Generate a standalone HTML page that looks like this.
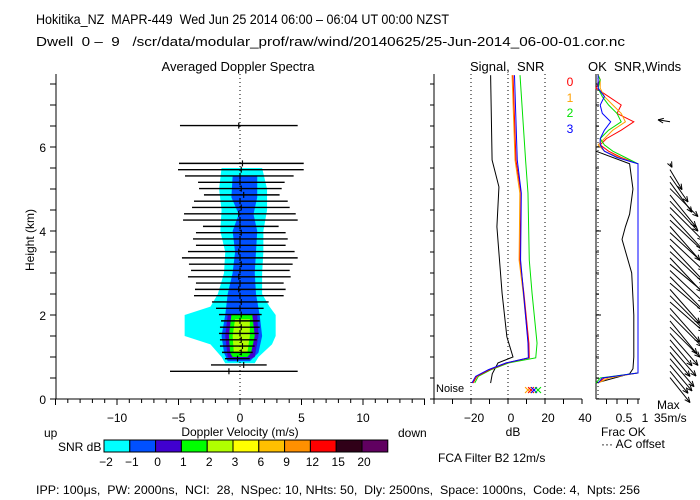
<!DOCTYPE html>
<html><head><meta charset="utf-8">
<style>
html,body{margin:0;padding:0;background:#fff;}
svg{display:block;font-family:"Liberation Sans",sans-serif;}
text{white-space:pre;}
</style></head>
<body>
<svg id="c" width="700" height="500" viewBox="0 0 700 500" xmlns="http://www.w3.org/2000/svg">
<text x="36" y="24" font-size="14" textLength="413" lengthAdjust="spacingAndGlyphs">Hokitika_NZ  MAPR-449  Wed Jun 25 2014 06:00 – 06:04 UT 00:00 NZST</text>
<text x="36" y="46" font-size="12.5" textLength="589" lengthAdjust="spacingAndGlyphs">Dwell  0 –  9   /scr/data/modular_prof/raw/wind/20140625/25-Jun-2014_06-00-01.cor.nc</text>
<text x="238" y="71" font-size="13" text-anchor="middle">Averaged Doppler Spectra</text>
<text x="470" y="71" font-size="13">Signal,  SNR</text>
<text x="588" y="71" font-size="13">OK  SNR,Winds</text>
<text x="0" y="0" font-size="12" text-anchor="middle" transform="translate(34,240) rotate(-90)">Height (km)</text>
<g id="plots"></g>
<text x="44" y="437" font-size="12">up</text>
<text x="240" y="436" font-size="12" text-anchor="middle">Doppler Velocity (m/s)</text>
<text x="398" y="437" font-size="12">down</text>
<text x="58" y="451" font-size="12">SNR dB</text>
<text x="513" y="436" font-size="12" text-anchor="middle">dB</text>
<text x="601" y="436" font-size="12">Frac OK</text>
<text x="601" y="448" font-size="12">··· AC offset</text>
<text x="657" y="409" font-size="12">Max</text>
<text x="654" y="422" font-size="12">35m/s</text>
<text x="438" y="462" font-size="12">FCA Filter B2 12m/s</text>
<text x="436" y="392" font-size="11">Noise</text>
<text x="36" y="494" font-size="12" textLength="604" lengthAdjust="spacingAndGlyphs">IPP: 100μs,  PW: 2000ns,  NCI:  28,  NSpec: 10, NHts: 50,  Dly: 2500ns,  Space: 1000ns,  Code: 4,  Npts: 256</text>
</svg>
<script>
// ---- data ----
var barHeights=[0.66,0.81,0.96,1.11,1.26,1.41,1.56,1.71,1.86,2.01,2.16,2.31,2.46,2.61,2.76,2.91,3.06,3.21,3.36,3.51,3.66,3.81,3.96,4.11,4.26,4.41,4.56,4.71,4.86,5.01,5.16,5.31,5.46,5.61,6.51];
var barLeft=[-5.69,-2.36,-1.22,-1.46,-1.63,-1.63,-1.71,-1.63,-1.54,-1.71,-1.95,-2.28,-3.74,-3.66,-3.58,-4.23,-3.98,-4.15,-4.72,-4.23,-3.58,-3.82,-3.58,-3.01,-4.63,-4.55,-3.90,-3.74,-2.93,-3.33,-3.41,-4.47,-5.04,-4.96,-4.88];
var barRight=[4.69,2.17,0.79,1.03,1.19,1.36,1.52,1.60,1.60,1.76,1.92,2.33,3.55,3.71,3.55,4.12,4.04,4.28,4.69,4.44,3.71,3.88,3.71,3.14,4.69,4.53,4.04,3.88,3.22,3.39,3.63,4.36,5.18,5.18,4.69];
var barMean=[-0.9,0.3,-0.2,0.1,0.2,0.1,0.0,0.1,0.0,0.1,0.0,0.1,0.0,-0.1,0.0,-0.1,0.0,0.1,0.0,-0.1,0.0,0.0,0.1,0.0,0.0,-0.1,0.1,0.0,0.3,0.1,0.0,0.0,0.1,0.2,-0.1];
var cyanH=[0.85,1.0,1.3,1.5,2.0,2.2,2.5,3.0,3.5,4.0,4.5,5.0,5.5];
var cyanL=[-1.2,-1.5,-2.4,-4.5,-4.5,-2.4,-1.8,-1.3,-1.2,-1.6,-1.5,-1.7,-1.5];
var cyanR=[1.2,1.5,2.6,2.9,2.9,2.4,1.8,1.8,1.9,1.9,2.2,2.2,1.8];
var blueH=[0.9,1.1,1.5,2.0,2.5,3.0,3.5,4.0,4.4,4.8,5.3];
var blueL=[-1.0,-1.3,-1.5,-1.2,-1.0,-0.6,-0.4,-0.6,-0.1,-0.7,-0.6];
var blueR=[0.8,1.5,1.8,1.6,1.3,1.2,1.3,1.4,1.1,1.4,1.4];
var purpH=[0.95,1.0,1.5,2.0];
var purpL=[-0.8,-1.0,-1.2,-1.0];
var purpR=[0.8,1.2,1.5,1.4];
var greenH=[1.0,1.1,1.5,2.0];
var greenL=[-0.6,-0.8,-0.9,-0.7];
var greenR=[0.6,0.9,1.2,1.0];
var ygH=[1.1,1.5,1.9];
var ygL=[-0.5,-0.6,-0.4];
var ygR=[0.6,0.8,0.8];
var cbLabels=["-2","-1","0","1","2","3","6","9","12","15","20"];
var cbColors=["#00ffff","#0050ff","#4000d0","#00ff00","#b0ff00","#ffff00","#ffc000","#ff9000","#ff0000","#300018","#600060"];
var sigH=[7.71,5.69,5.05,4.1,2.52,1.48,1.0,0.86,0.6,0.38];
var sigDb=[-9.4,-8.6,-4.9,-6.0,-3.2,-0.6,2.7,-5.4,-8.5,-9.4];
var snrH=[7.71,5.69,4.9,3.31,2.52,1.33,0.98,0.86,0.7,0.54,0.38];
var snr0=[2.7,4.3,7.0,6.5,8.6,11.3,11.5,-0.5,-9.7,-16.8,-18.9];
var snr1=[2.2,3.8,6.4,6.0,8.2,11.0,11.2,-0.8,-10.0,-17.0,-19.0];
var snr2=[6.5,9.5,10.8,11.5,13.0,15.7,15.0,0.5,-9.0,-16.0,-18.0];
var snr3=[3.5,5.0,7.2,6.8,8.4,10.8,11.0,-1.0,-10.5,-17.5,-19.5];
var okH=[0.38,0.5,0.62,5.6,5.75,5.9,6.05,6.2,6.4,6.6,6.8,7.0,7.2,7.4,7.6,7.71];
var ok0=[0.05,0.2,1.0,1.0,0.6,0.3,0.1,0.25,0.6,0.9,0.5,0.6,0.3,0.0,0.1,0.05];
var ok1=[0.05,0.3,1.0,1.0,0.55,0.2,0.05,0.2,0.4,0.7,0.6,0.4,0.2,0.1,0.1,0.05];
var ok2=[0.0,0.1,1.0,1.0,0.7,0.4,0.2,0.1,0.3,0.6,0.5,0.3,0.15,0.05,0.1,0.05];
var ok3=[0.05,0.15,1.0,1.0,0.5,0.2,0.1,0.1,0.2,0.35,0.15,0.1,0.2,0.05,0.05,0.05];
var acH=[0.38,0.6,0.72,1.0,2.0,3.0,3.8,4.1,4.4,5.0,5.6,5.9];
var acFrac=[0.0,0.8,0.88,0.9,0.9,0.85,0.62,0.7,0.8,0.88,0.8,0.0];
var windH=[0.51,0.66,0.81,0.96,1.11,1.26,1.41,1.56,1.71,1.86,2.01,2.16,2.31,2.46,2.61,2.76,2.91,3.06,3.21,3.36,3.51,3.66,3.81,3.96,4.11,4.26,4.41,4.56,4.71,4.86,5.01,5.16,5.31,5.46,5.61,6.6];
var windU=[20,18,22,24,20,26,22,28,30,27,32,30,34,33,30,35,33,34,36,32,35,33,34,36,30,34,32,33,28,26,28,22,18,12,2,-12];
var windV=[-25,-22,-26,-28,-24,-30,-26,-32,-30,-33,-32,-34,-30,-33,-34,-30,-33,-32,-30,-34,-33,-35,-32,-33,-34,-32,-35,-33,-30,-32,-28,-30,-26,-20,-4,2];

var NS='http://www.w3.org/2000/svg';
var g=document.getElementById('plots');
function yH(h){return 399-h*42;}
function xV(v){return 240+v*12.3;}
function xDb(d){return 508+d*1.85;}
function xF(f){return 596+f*42;}
function mk(tag,attrs,parent){var e=document.createElementNS(NS,tag);for(var k in attrs)e.setAttribute(k,attrs[k]);(parent||g).appendChild(e);return e;}
function line(x1,y1,x2,y2,st,w,da){return mk('line',{x1:x1,y1:y1,x2:x2,y2:y2,stroke:st||'#000','stroke-width':w||1,'stroke-dasharray':da||'none'});}
function txt(x,y,s,anchor,fill,size){var t=mk('text',{x:x,y:y,'font-size':size||12,'text-anchor':anchor||'middle',style:'fill:'+(fill||'#000')});t.textContent=s;return t;}

function contour(H,L,R,col,name){
  var pts=[];
  for(var i=0;i<H.length;i++)pts.push(xV(L[i])+','+yH(H[i]));
  for(var j=H.length-1;j>=0;j--)pts.push(xV(R[j])+','+yH(H[j]));
  var p=mk('polygon',{points:pts.join(' '),fill:col});
  
  
}
contour(cyanH,cyanL,cyanR,'#00ffff','contour-snr-m2');
contour(blueH,blueL,blueR,'#0050ff','contour-snr-m1');
contour(purpH,purpL,purpR,'#4000d0','contour-snr-0');
contour(greenH,greenL,greenR,'#00ff00','contour-snr-1');
contour(ygH,ygL,ygR,'#b0ff00','contour-snr-2');

line(56,74,56,399);line(56,399,425,399);
line(xV(0),74,xV(0),399,'#000',1,'1,3');
for(var h=0;h<=7.5;h+=0.5){line(50,yH(h),56,yH(h));}
[0,2,4,6].forEach(function(v){txt(46,yH(v)+5,String(v),'end');});
for(var v=-15;v<=15;v++){var mj=(v%5===0);line(xV(v),399,xV(v),mj?405:403);}
[-10,-5,0,5,10].forEach(function(v){txt(xV(v),422,(v<0?'−':'')+Math.abs(v));});

for(var i=0;i<barHeights.length;i++){
  var b=line(xV(barLeft[i]),yH(barHeights[i]),xV(barRight[i]),yH(barHeights[i]),'#000',1.4);
  
  
  line(xV(barMean[i]),yH(barHeights[i])-3,xV(barMean[i]),yH(barHeights[i])+3,'#000',1.2);
}

for(var c=0;c<cbColors.length;c++){
  var r=mk('rect',{x:104+c*25.8,y:440,width:25.8,height:12,fill:cbColors[c],stroke:'#000','stroke-width':1});
  
  
  txt(104+c*25.8+2,466,cbLabels[c].replace('-','−'),'middle');
}

line(434,74,434,399);line(434,399,582,399);
for(var h2=0;h2<=7.5;h2+=0.5){line(430,yH(h2),434,yH(h2));}
[-20,0,20].forEach(function(d){line(xDb(d),74,xDb(d),399,'#000',1,'1,3');});
for(var d=-40;d<=40;d+=10){line(xDb(d),399,xDb(d),404);}
[-20,0,20,40].forEach(function(d){txt(xDb(d)+3,422,(d<0?'−':'')+Math.abs(d));});
function poly(H,X,fx,col,name){var p=[];for(var i=0;i<H.length;i++)p.push(fx(X[i])+','+yH(H[i]));var e=mk('polyline',{points:p.join(' '),fill:'none',stroke:col,'stroke-width':1});}
poly(sigH,sigDb,xDb,'#000','signal-line');
poly(snrH,snr2,xDb,'#00e000','snr-beam-2');
poly(snrH,snr1,xDb,'#ffa000','snr-beam-1');
poly(snrH,snr0,xDb,'#ff0000','snr-beam-0');
poly(snrH,snr3,xDb,'#0000ff','snr-beam-3');
[['#ffa000',528],['#ff0000',531],['#0000ff',534],['#00e000',538]].forEach(function(a){txt(a[1],395,'×','middle',a[0],15);});
txt(570,86,'0','middle','#ff0000',12);txt(570,102,'1','middle','#ffa000',12);txt(570,117,'2','middle','#00e000',12);txt(570,133,'3','middle','#0000ff',12);

line(596,74,596,399);line(596,399,640,399);
for(var h3=0;h3<=7.5;h3+=0.5){line(596,yH(h3),h3%2===0?601:599,yH(h3));}
line(598,74,598,399,'#000',1,'1,3');
[0.25,0.5,0.75,1].forEach(function(f){line(xF(f),399,xF(f),404);});
txt(624,422,'0.5');txt(645,422,'1');
poly(acH,acFrac,xF,'#000','ac-offset-line');
poly(okH,ok0,xF,'#ff0000','ok-frac-0');
poly(okH,ok1,xF,'#ffa000','ok-frac-1');
poly(okH,ok2,xF,'#00e000','ok-frac-2');
poly(okH,ok3,xF,'#0000ff','ok-frac-3');
for(var w=0;w<windH.length;w++){
  var x0=670,y0=yH(windH[w]),x1=x0+windU[w],y1=y0-windV[w];
  var a=line(x0,y0,x1,y1,'#000',1);
  
  
  var ang=Math.atan2(y1-y0,x1-x0);
  line(x1,y1,x1-6*Math.cos(ang-0.4),y1-6*Math.sin(ang-0.4));
  line(x1,y1,x1-6*Math.cos(ang+0.4),y1-6*Math.sin(ang+0.4));
}
</script>
</body></html>
